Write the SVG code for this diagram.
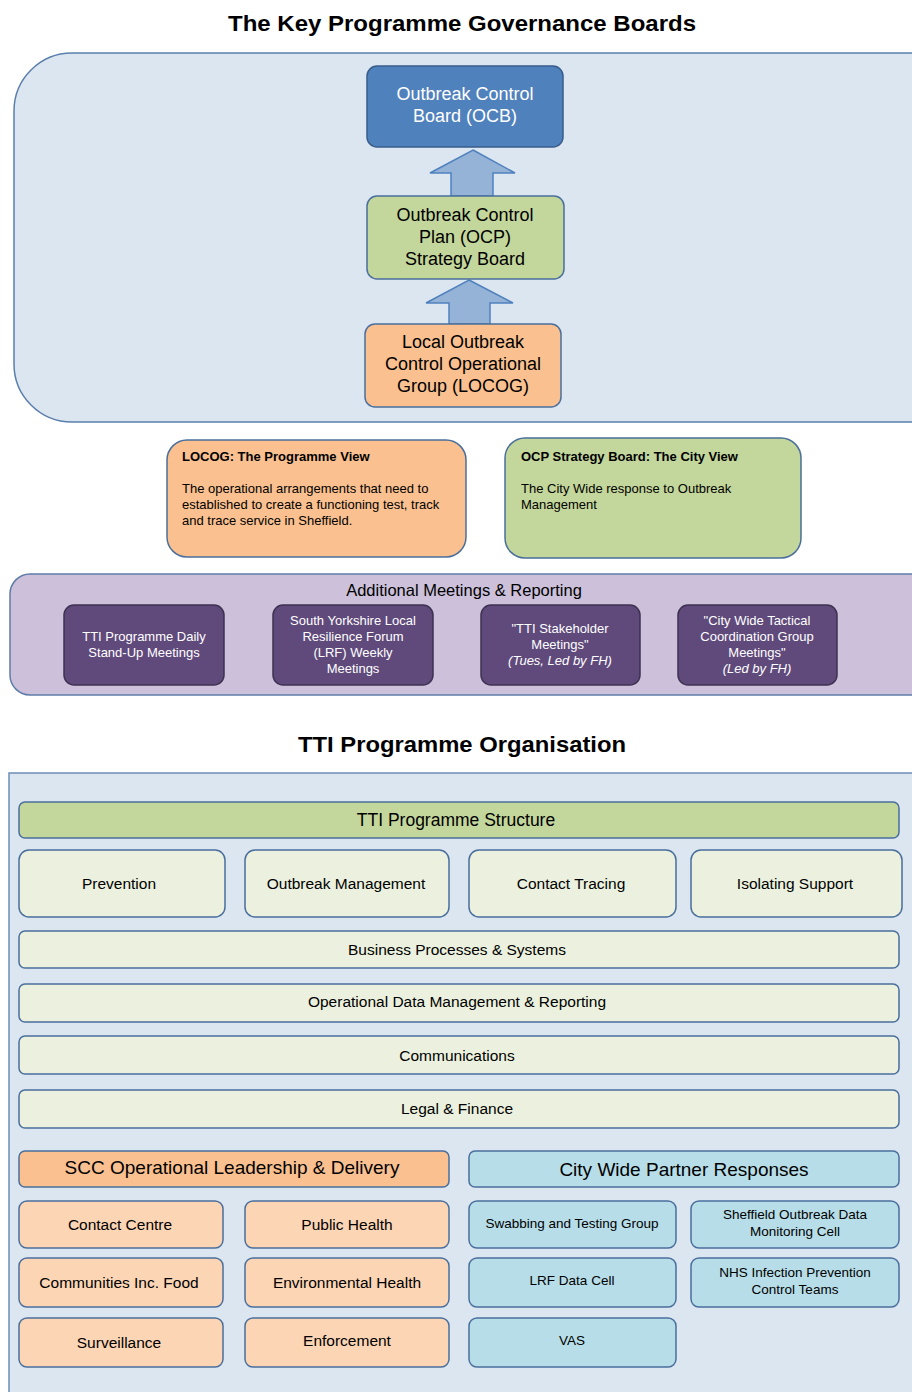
<svg xmlns="http://www.w3.org/2000/svg" width="912" height="1392" viewBox="0 0 912 1392">
<style>
text{font-family:"Liberation Sans",Arial,sans-serif;fill:#000}
.title{font-size:22px;font-weight:bold;text-anchor:middle}
.gov{font-size:18px;text-anchor:middle}
.w{fill:#fff}
.box{stroke:#4a6f9c;stroke-width:1.5}
.blue{fill:#4f81bd;stroke:#385d8a}
.green{fill:#c3d69b}
.orange{fill:#fac090}
.lgreen{fill:#ebf1de}
.lorange{fill:#fcd5b5}
.lblue{fill:#b7dde8}
.purple{fill:#604a7b;stroke:#3f3151;stroke-width:1.5}
.pt{font-size:13px;text-anchor:middle;fill:#fff}
.vh{font-size:13px;font-weight:bold}
.vb{font-size:13px}
.m{text-anchor:middle;font-size:15.5px}
.s{text-anchor:middle;font-size:13.5px}
.arrow{fill:#95b3d7;stroke:#4f81bd;stroke-width:1.5}
</style>
<rect width="912" height="1392" fill="#fff"/>
<text class="title" x="462" y="31" textLength="468" lengthAdjust="spacingAndGlyphs">The Key Programme Governance Boards</text>
<g id="governance-panel">
<rect x="14" y="53" width="960" height="369" rx="58" ry="58" fill="#dce6f1" stroke="#5a7fad" stroke-width="1.5"/>
</g>
<g id="connectors">
<polygon class="arrow" points="473,150 515,173 493,173 493,196 451,196 451,173 430,173"/>
<polygon class="arrow" points="469,280 513,303 490,303 490,324 449,324 449,303 426,303"/>
</g>
<g id="ocb">
<rect class="box blue" x="367" y="66" width="196" height="81" rx="10"/>
<text class="gov w" x="465" y="100">Outbreak Control</text>
<text class="gov w" x="465" y="122">Board (OCB)</text>
</g>
<g id="ocp">
<rect class="box green" x="367" y="196" width="197" height="83" rx="10"/>
<text class="gov" x="465" y="221">Outbreak Control</text>
<text class="gov" x="465" y="243">Plan (OCP)</text>
<text class="gov" x="465" y="265">Strategy Board</text>
</g>
<g id="locog">
<rect class="box orange" x="365" y="324" width="196" height="83" rx="10"/>
<text class="gov" x="463" y="348">Local Outbreak</text>
<text class="gov" x="463" y="370">Control Operational</text>
<text class="gov" x="463" y="392">Group (LOCOG)</text>
</g>
<g id="locog-view">
<rect class="box orange" x="167" y="440" width="299" height="117" rx="20"/>
<text class="vh" x="182" y="461">LOCOG: The Programme View</text>
<text class="vb" x="182" y="493">The operational arrangements that need to</text>
<text class="vb" x="182" y="509">established to create a functioning test, track</text>
<text class="vb" x="182" y="525">and trace service in Sheffield.</text>
</g>
<g id="ocp-view">
<rect class="box green" x="505" y="438" width="296" height="120" rx="20"/>
<text class="vh" x="521" y="461">OCP Strategy Board: The City View</text>
<text class="vb" x="521" y="493">The City Wide response to Outbreak</text>
<text class="vb" x="521" y="509">Management</text>
</g>
<g id="additional-meetings">
<rect x="10" y="574" width="960" height="121" rx="20" fill="#ccc0da" stroke="#5f7ca8" stroke-width="1.5"/>
<text x="464" y="596" style="font-size:16.5px;text-anchor:middle">Additional  Meetings &amp; Reporting</text>
</g>
<g id="meeting-daily">
<rect class="purple" x="64" y="605" width="160" height="80" rx="10"/>
<text class="pt" x="144" y="641">TTI Programme Daily</text>
<text class="pt" x="144" y="657">Stand-Up Meetings</text>
</g>
<g id="meeting-lrf">
<rect class="purple" x="273" y="605" width="160" height="80" rx="10"/>
<text class="pt" x="353" y="625">South Yorkshire Local</text>
<text class="pt" x="353" y="641">Resilience Forum</text>
<text class="pt" x="353" y="657">(LRF) Weekly</text>
<text class="pt" x="353" y="673">Meetings</text>
</g>
<g id="meeting-stakeholder">
<rect class="purple" x="481" y="605" width="159" height="80" rx="10"/>
<text class="pt" x="560" y="633">"TTI Stakeholder</text>
<text class="pt" x="560" y="649">Meetings"</text>
<text class="pt" x="560" y="665" font-style="italic">(Tues, Led by FH)</text>
</g>
<g id="meeting-tactical">
<rect class="purple" x="678" y="605" width="159" height="80" rx="10"/>
<text class="pt" x="757" y="625">"City Wide Tactical</text>
<text class="pt" x="757" y="641">Coordination Group</text>
<text class="pt" x="757" y="657">Meetings"</text>
<text class="pt" x="757" y="673" font-style="italic">(Led by FH)</text>
</g>
<text class="title" x="462" y="752" textLength="328" lengthAdjust="spacingAndGlyphs">TTI Programme Organisation</text>
<g id="organisation-panel">
<rect x="9" y="773" width="960" height="640" fill="#dce6f1" stroke="#6f8db5" stroke-width="1.5"/>
</g>
<g id="tti-structure">
<rect class="box green" x="19" y="802" width="880" height="36" rx="6"/>
<text x="456" y="826" style="font-size:17.5px;text-anchor:middle">TTI  Programme  Structure</text>
</g>
<g id="prevention"><rect class="box lgreen" x="19" y="850" width="206" height="67" rx="10"/><text class="m" x="119" y="889">Prevention</text></g>
<g id="outbreak-management"><rect class="box lgreen" x="245" y="850" width="204" height="67" rx="10"/><text class="m" x="346" y="889">Outbreak  Management</text></g>
<g id="contact-tracing"><rect class="box lgreen" x="469" y="850" width="207" height="67" rx="10"/><text class="m" x="571" y="889">Contact  Tracing</text></g>
<g id="isolating-support"><rect class="box lgreen" x="691" y="850" width="211" height="67" rx="10"/><text class="m" x="795" y="889">Isolating  Support</text></g>
<g id="business-processes"><rect class="box lgreen" x="19" y="931" width="880" height="37" rx="6"/><text class="m" x="457" y="955">Business  Processes  &amp;  Systems</text></g>
<g id="operational-data"><rect class="box lgreen" x="19" y="984" width="880" height="38" rx="6"/><text class="m" x="457" y="1007">Operational  Data  Management  &amp;  Reporting</text></g>
<g id="communications"><rect class="box lgreen" x="19" y="1036" width="880" height="38" rx="6"/><text class="m" x="457" y="1061">Communications</text></g>
<g id="legal-finance"><rect class="box lgreen" x="19" y="1090" width="880" height="38" rx="6"/><text class="m" x="457" y="1114">Legal &amp; Finance</text></g>
<g id="scc-leadership"><rect class="box orange" x="19" y="1151" width="430" height="36" rx="6"/><text x="232" y="1174" style="font-size:19px;text-anchor:middle">SCC Operational  Leadership  &amp; Delivery</text></g>
<g id="city-wide-partners"><rect class="box lblue" x="469" y="1151" width="430" height="36" rx="6"/><text x="684" y="1176" style="font-size:19px;text-anchor:middle">City Wide Partner Responses</text></g>
<g id="contact-centre"><rect class="box lorange" x="19" y="1201" width="204" height="47" rx="8"/><text class="m" x="120" y="1230">Contact  Centre</text></g>
<g id="public-health"><rect class="box lorange" x="245" y="1201" width="204" height="47" rx="8"/><text class="m" x="347" y="1230">Public Health</text></g>
<g id="swabbing"><rect class="box lblue" x="469" y="1201" width="207" height="47" rx="8"/><text class="s" x="572" y="1228">Swabbing and Testing Group</text></g>
<g id="data-monitoring"><rect class="box lblue" x="691" y="1201" width="208" height="47" rx="8"/><text class="s" x="795" y="1219">Sheffield Outbreak Data</text><text class="s" x="795" y="1236">Monitoring Cell</text></g>
<g id="communities"><rect class="box lorange" x="19" y="1258" width="204" height="49" rx="8"/><text class="m" x="119" y="1288">Communities  Inc. Food</text></g>
<g id="environmental-health"><rect class="box lorange" x="245" y="1258" width="204" height="49" rx="8"/><text class="m" x="347" y="1288">Environmental   Health</text></g>
<g id="lrf-data-cell"><rect class="box lblue" x="469" y="1258" width="207" height="49" rx="8"/><text class="s" x="572" y="1285">LRF Data Cell</text></g>
<g id="nhs-ipc"><rect class="box lblue" x="691" y="1258" width="208" height="49" rx="8"/><text class="s" x="795" y="1277">NHS Infection Prevention</text><text class="s" x="795" y="1294">Control Teams</text></g>
<g id="surveillance"><rect class="box lorange" x="19" y="1318" width="204" height="49" rx="8"/><text class="m" x="119" y="1348">Surveillance</text></g>
<g id="enforcement"><rect class="box lorange" x="245" y="1318" width="204" height="49" rx="8"/><text class="m" x="347" y="1346">Enforcement</text></g>
<g id="vas"><rect class="box lblue" x="469" y="1318" width="207" height="49" rx="8"/><text class="s" x="572" y="1345">VAS</text></g>
</svg>
